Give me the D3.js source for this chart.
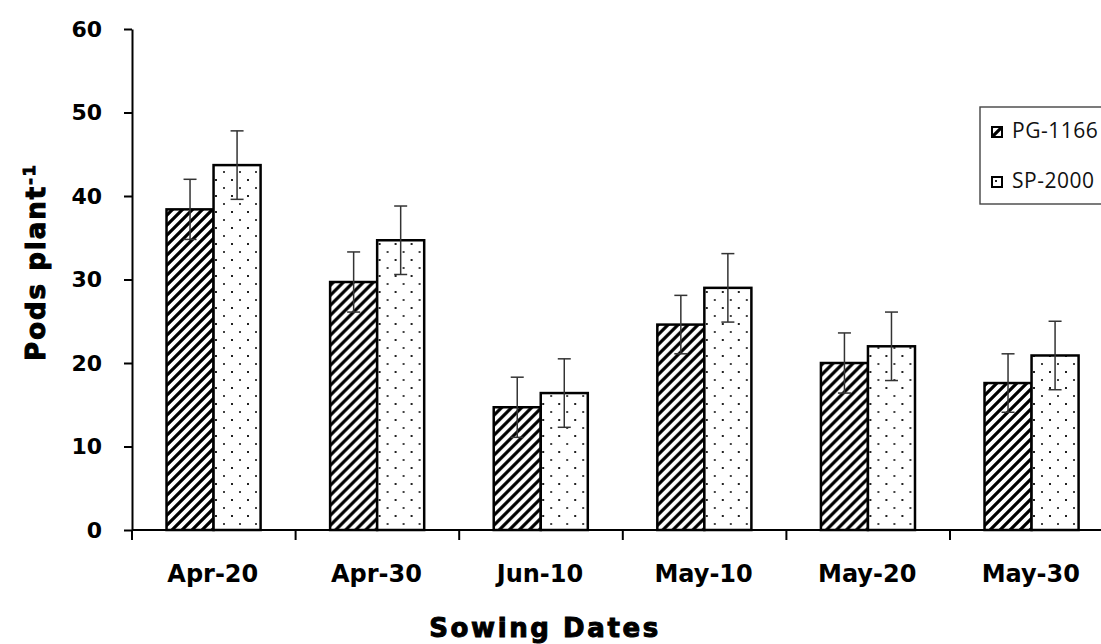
<!DOCTYPE html>
<html>
<head>
<meta charset="utf-8">
<script src="https://cdn.jsdelivr.net/npm/d3@7"></script>
<style>
  body { margin: 0; background: #fff; }
  svg { display: block; }
</style>
</head>
<body>
<div id="chart"></div>
<script>
// data
const categories = ["Apr-20", "Apr-30", "Jun-10", "May-10", "May-20", "May-30"];
const series = ["PG-1166", "SP-2000"];
const pgValues = [38.4, 29.7, 14.7, 24.6, 20.0, 17.6];
const spValues = [43.7, 34.7, 16.4, 29.0, 22.0, 20.9];
const pgErrors = [3.6, 3.6, 3.6, 3.5, 3.6, 3.5];
const spErrors = [4.1, 4.1, 4.1, 4.1, 4.1, 4.1];
const yTicks = [0, 10, 20, 30, 40, 50, 60];

const w = 1101, h = 644;
const plotLeft = 132, plotBottom = 530, plotTop = 29, step = 163.6;

const svg = d3.select("#chart").append("svg")
  .attr("width", w)
  .attr("height", h);

// fill patterns
const defs = svg.append("defs");
const hatch = defs.append("pattern")
  .attr("id", "hatch")
  .attr("patternUnits", "userSpaceOnUse")
  .attr("width", 10).attr("height", 10);
hatch.append("rect").attr("width", 10).attr("height", 10).attr("fill", "#fff");
hatch.append("path")
  .attr("d", "M-2,12 L12,-2 M-7,7 L7,-7 M3,17 L17,3")
  .attr("stroke", "#000")
  .attr("stroke-width", 3.2);

const dots = defs.append("pattern")
  .attr("id", "dots")
  .attr("patternUnits", "userSpaceOnUse")
  .attr("width", 16).attr("height", 16);
dots.append("rect").attr("width", 16).attr("height", 16).attr("fill", "#fff");
dots.append("rect").attr("x", 3).attr("y", 3).attr("width", 2).attr("height", 2).attr("fill", "#222");
dots.append("rect").attr("x", 11).attr("y", 11).attr("width", 2).attr("height", 2).attr("fill", "#444");

const fills = { "PG-1166": "url(#hatch)", "SP-2000": "url(#dots)" };

const y = d3.scaleLinear().domain([0, 60]).range([plotBottom, plotTop]);
const x0 = d3.scaleBand()
  .domain(categories)
  .range([plotLeft, plotLeft + step * categories.length])
  .padding(0);
const x1 = d3.scaleBand()
  .domain(series)
  .range([step * 0.211, step * 0.786]);

const rows = categories.map((c, i) => ({
  cat: c,
  bars: [
    { s: series[0], v: pgValues[i], e: pgErrors[i] },
    { s: series[1], v: spValues[i], e: spErrors[i] }
  ]
}));

const groups = svg.selectAll("g.cat")
  .data(rows)
  .enter()
  .append("g")
  .attr("class", "cat")
  .attr("transform", d => `translate(${x0(d.cat)},0)`);

groups.selectAll("rect")
  .data(d => d.bars)
  .enter()
  .append("rect")
  .attr("x", d => x1(d.s))
  .attr("y", d => y(d.v))
  .attr("width", x1.bandwidth())
  .attr("height", d => y(0) - y(d.v))
  .attr("fill", d => fills[d.s])
  .attr("stroke", "#000")
  .attr("stroke-width", 2.5);

// error bars
const cap = 6.5;
const err = groups.selectAll("g.err")
  .data(d => d.bars)
  .enter()
  .append("g")
  .attr("class", "err")
  .attr("stroke", "#333")
  .attr("stroke-width", 1.5);
err.append("line")
  .attr("x1", d => x1(d.s) + x1.bandwidth() / 2)
  .attr("x2", d => x1(d.s) + x1.bandwidth() / 2)
  .attr("y1", d => y(d.v + d.e))
  .attr("y2", d => y(d.v - d.e));
err.append("line")
  .attr("x1", d => x1(d.s) + x1.bandwidth() / 2 - cap)
  .attr("x2", d => x1(d.s) + x1.bandwidth() / 2 + cap)
  .attr("y1", d => y(d.v + d.e))
  .attr("y2", d => y(d.v + d.e));
err.append("line")
  .attr("x1", d => x1(d.s) + x1.bandwidth() / 2 - cap)
  .attr("x2", d => x1(d.s) + x1.bandwidth() / 2 + cap)
  .attr("y1", d => y(d.v - d.e))
  .attr("y2", d => y(d.v - d.e));

// y axis
const axisL = d3.axisLeft(y).tickValues(yTicks).tickSize(8).tickSizeOuter(0).tickPadding(22);
const gy = svg.append("g")
  .attr("transform", `translate(${plotLeft},0)`)
  .call(axisL);
gy.select(".domain").attr("stroke-width", 2);
gy.selectAll(".tick line").attr("stroke-width", 2);
gy.selectAll(".tick text")
  .attr("font-family", "DejaVu Sans")
  .attr("font-weight", "bold")
  .attr("font-size", 22)
  .attr("fill", "#000");

// x axis: ticks sit on the category boundaries
const bounds = d3.range(categories.length + 1).map(i => plotLeft + i * step);
svg.append("line")
  .attr("x1", plotLeft).attr("x2", plotLeft + step * categories.length)
  .attr("y1", plotBottom).attr("y2", plotBottom)
  .attr("stroke", "#000").attr("stroke-width", 2);
svg.selectAll("line.xtick")
  .data(bounds)
  .enter()
  .append("line")
  .attr("class", "xtick")
  .attr("x1", d => d).attr("x2", d => d)
  .attr("y1", plotBottom).attr("y2", plotBottom + 10)
  .attr("stroke", "#000").attr("stroke-width", 2);
svg.selectAll("text.xlab")
  .data(categories)
  .enter()
  .append("text")
  .attr("class", "xlab")
  .attr("x", d => x0(d) + x0.bandwidth() / 2 - 1)
  .attr("y", 582)
  .attr("text-anchor", "middle")
  .attr("font-family", "DejaVu Sans")
  .attr("font-weight", "bold")
  .attr("font-size", 24)
  .text(d => d);

// axis titles
svg.append("text")
  .attr("x", 545)
  .attr("y", 637)
  .attr("text-anchor", "middle")
  .attr("font-family", "DejaVu Sans")
  .attr("font-weight", "bold")
  .attr("font-size", 26)
  .attr("letter-spacing", 2.6)
  .attr("stroke", "#000")
  .attr("stroke-width", 1)
  .text("Sowing Dates");

const yt = svg.append("text")
  .attr("transform", "translate(45,262) rotate(-90)")
  .attr("text-anchor", "middle")
  .attr("font-family", "DejaVu Sans")
  .attr("font-weight", "bold")
  .attr("font-size", 26)
  .attr("letter-spacing", 2)
  .attr("stroke", "#000")
  .attr("stroke-width", 1);
yt.append("tspan").text("Pods plant");
yt.append("tspan")
  .attr("font-size", 16)
  .attr("dy", -10)
  .text("-1");

// legend box runs off the right edge like the reference
const leg = svg.append("g").attr("transform", "translate(980,107)");
leg.append("rect")
  .attr("width", 160).attr("height", 97)
  .attr("fill", "#fff")
  .attr("stroke", "#444").attr("stroke-width", 1.4);
const li = leg.selectAll("g.item")
  .data(series)
  .enter()
  .append("g")
  .attr("class", "item")
  .attr("transform", (d, i) => `translate(12,${20 + i * 50})`);
li.append("rect")
  .attr("width", 10).attr("height", 10)
  .attr("fill", d => fills[d])
  .attr("stroke", "#000").attr("stroke-width", 2);
li.append("text")
  .attr("x", 20).attr("y", 11)
  .attr("font-family", "Open Sans")
  .attr("font-size", 21)
  .attr("letter-spacing", 0.5)
  .attr("fill", "#111")
  .text(d => d);
</script>
</body>
</html>
